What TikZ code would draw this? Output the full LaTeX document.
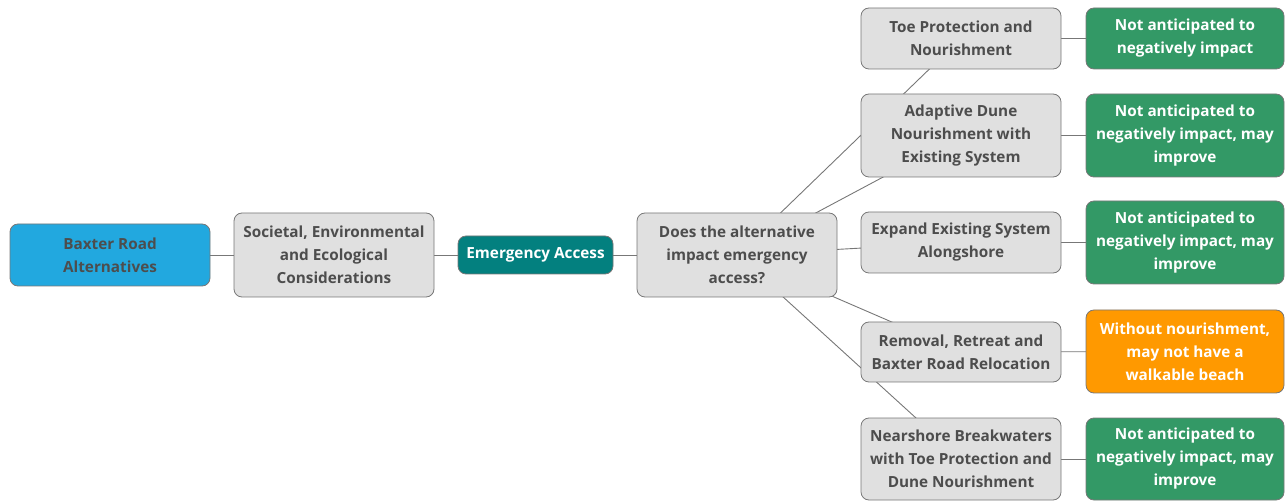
\documentclass[tikz,border=0pt]{standalone}
\usepackage{fontspec}
\setmainfont{Open Sans}
\begin{document}
\definecolor{boxgray}{HTML}{E0E0E0}
\definecolor{edgegray}{HTML}{777777}
\definecolor{txtgray}{HTML}{4D4D4D}
\definecolor{rootblue}{HTML}{22A8DF}
\definecolor{teal}{HTML}{03807F}
\definecolor{okgreen}{HTML}{339966}
\definecolor{warnorange}{HTML}{FF9900}
\pgfdeclarelayer{bg}
\pgfsetlayers{bg,main}
\begin{tikzpicture}[x=1pt,y=-1pt,
  box/.style={draw=edgegray,line width=0.8pt,rounded corners=8pt,
    align=center,inner sep=0pt,font=\bfseries\fontsize{15.3}{23}\selectfont,
    minimum width=#1},
  box/.default=200pt,
  grey/.style={box,fill=boxgray,text=txtgray},
  link/.style={draw=edgegray,line width=0.9pt}]
\useasboundingbox (0,0) rectangle (1285,502);

% hierarchy from left to right
\node[box,fill=rootblue,text=txtgray,minimum height=62pt] (root) at (110,255) {Baxter Road\\Alternatives};
\node[grey,minimum height=84pt] (soc) at (334,255) {Societal, Environmental\\and Ecological\\Considerations};
\node[box=155pt,fill=teal,text=white,minimum height=38pt] (ea) at (535.5,255) {Emergency Access};
\node[grey,minimum height=84pt] (q) at (737,255) {Does the alternative\\impact emergency\\access?};

% alternatives
\node[grey,minimum height=61pt] (a1) at (961,38.5) {Toe Protection and\\Nourishment};
\node[grey,minimum height=83pt] (a2) at (961,135.5) {Adaptive Dune\\Nourishment with\\Existing System};
\node[grey,minimum height=61pt] (a3) at (961,242.5) {Expand Existing System\\Alongshore};
\node[grey,minimum height=60pt] (a4) at (961,352) {Removal, Retreat and\\Baxter Road Relocation};
\node[grey,minimum height=82pt] (a5) at (961,459) {Nearshore Breakwaters\\with Toe Protection and\\Dune Nourishment};

% assessments
\node[box=198pt,fill=okgreen,text=white,minimum height=61pt] (r1) at (1185,38.5) {Not anticipated to\\negatively impact};
\node[box=198pt,fill=okgreen,text=white,minimum height=83pt] (r2) at (1185,135.5) {Not anticipated to\\negatively impact, may\\improve};
\node[box=198pt,fill=okgreen,text=white,minimum height=83pt] (r3) at (1185,242.5) {Not anticipated to\\negatively impact, may\\improve};
\node[box=198pt,fill=warnorange,text=white,minimum height=83pt] (r4) at (1185,351.5) {Without nourishment,\\may not have a\\walkable beach};
\node[box=198pt,fill=okgreen,text=white,minimum height=82pt] (r5) at (1185,459) {Not anticipated to\\negatively impact, may\\improve};

% connectors run centre to centre, behind the boxes
\begin{pgfonlayer}{bg}
\draw[link] (root.center) -- (soc.center);
\draw[link] (soc.center) -- (ea.center);
\draw[link] (ea.center) -- (q.center);
\foreach \n in {a1,a2,a3,a4,a5}{\draw[link] (q.center) -- (\n.center);}
\draw[link] (a1.center) -- (r1.center);
\draw[link] (a2.center) -- (r2.center);
\draw[link] (a3.center) -- (r3.center);
\draw[link] (a4.center) -- (r4.center);
\draw[link] (a5.center) -- (r5.center);
\end{pgfonlayer}
\end{tikzpicture}
\end{document}
